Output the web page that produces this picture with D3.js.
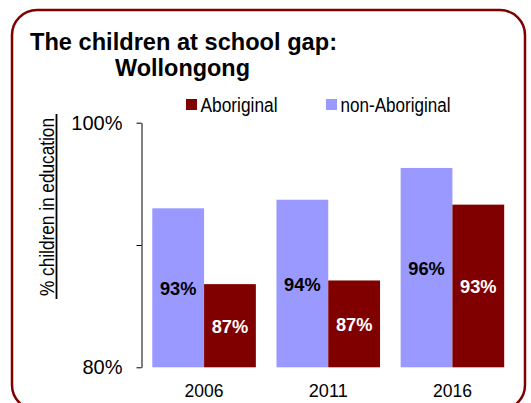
<!DOCTYPE html>
<html>
<head>
<meta charset="utf-8">
<script src="https://cdn.jsdelivr.net/npm/d3@7"></script>
<style>
  html, body { margin: 0; padding: 0; background: #fff; }
  svg text { font-family: "Liberation Sans", Arial, Helvetica, sans-serif; }
</style>
</head>
<body>
<svg id="chart" width="531" height="403"></svg>
<script>
// Census years and share of children in education (%)
const years = ["2006", "2011", "2016"];
const seriesNames = ["non-Aboriginal", "Aboriginal"];
const nonAboriginal = [93.0, 93.7, 96.3];
const aboriginal = [86.8, 87.1, 93.3];
const yTicks = [80, 90, 100];
const yTickLabels = ["80%", "", "100%"];
const legendOrder = ["Aboriginal", "non-Aboriginal"];

const colors = { "non-Aboriginal": "#9999ff", "Aboriginal": "#800000" };
const labelColors = { "non-Aboriginal": "#000", "Aboriginal": "#fff" };

const rows = years.map((yr, i) => ({
  year: yr,
  values: [
    { key: "non-Aboriginal", value: nonAboriginal[i] },
    { key: "Aboriginal", value: aboriginal[i] }
  ]
}));

const svg = d3.select("#chart");

// Rounded frame around the chart
svg.append("rect")
  .attr("x", 12).attr("y", 10)
  .attr("width", 513).attr("height", 400)
  .attr("rx", 25).attr("ry", 25)
  .attr("fill", "none")
  .attr("stroke", "#800000")
  .attr("stroke-width", 2.5);

// Title
const title = svg.append("g").attr("font-weight", "bold").attr("fill", "#000");
title.append("text").attr("x", 30).attr("y", 50)
  .attr("font-size", 24).attr("textLength", 307).attr("lengthAdjust", "spacingAndGlyphs")
  .text("The children at school gap:");
title.append("text").attr("x", 115).attr("y", 75.5)
  .attr("font-size", 24).attr("textLength", 135).attr("lengthAdjust", "spacingAndGlyphs")
  .text("Wollongong");

// Scales
const x0 = d3.scaleBand()
  .domain(years)
  .range([141.5, 515])
  .paddingInner(0.166)
  .paddingOuter(0.087);

const x1 = d3.scaleBand()
  .domain(seriesNames)
  .range([0, x0.bandwidth()]);

const y = d3.scaleLinear()
  .domain([80, 100])
  .range([367.3, 122.7]);

// Bars
const groups = svg.append("g").selectAll("g")
  .data(rows)
  .join("g")
  .attr("transform", d => `translate(${x0(d.year)},0)`);

groups.selectAll("rect")
  .data(d => d.values)
  .join("rect")
  .attr("x", d => x1(d.key))
  .attr("y", d => y(d.value))
  .attr("width", x1.bandwidth())
  .attr("height", d => y(80) - y(d.value))
  .attr("fill", d => colors[d.key]);

// Value labels in the middle of each bar
const fmt = v => d3.format(".0f")(v) + "%";
groups.selectAll("text.val")
  .data(d => d.values)
  .join("text")
  .attr("class", "val")
  .attr("x", d => x1(d.key) + x1.bandwidth() / 2)
  .attr("y", d => (y(d.value) + y(80)) / 2 + 7)
  .attr("text-anchor", "middle")
  .attr("font-size", 19)
  .attr("textLength", 36.5)
  .attr("lengthAdjust", "spacingAndGlyphs")
  .attr("font-weight", "bold")
  .attr("fill", d => labelColors[d.key])
  .text(d => fmt(d.value));

// Y axis
const yAxis = d3.axisLeft(y)
  .tickValues(yTicks)
  .tickFormat((d, i) => yTickLabels[i])
  .tickSize(5)
  .tickSizeOuter(0)
  .tickPadding(14);

const yG = svg.append("g")
  .attr("transform", "translate(141.5,0)")
  .call(yAxis);
yG.selectAll("path, line").attr("stroke", "#000").attr("stroke-width", 1);
yG.selectAll("text")
  .attr("font-size", 20)
  .attr("fill", "#000")
  .attr("font-family", "'Liberation Sans', Arial, sans-serif");

// Year labels
svg.append("g").selectAll("text")
  .data(years)
  .join("text")
  .attr("x", d => x0(d) + x0.bandwidth() / 2)
  .attr("y", 396.5)
  .attr("text-anchor", "middle")
  .attr("font-size", 18.5)
  .attr("textLength", 39)
  .attr("lengthAdjust", "spacingAndGlyphs")
  .attr("fill", "#000")
  .text(d => d);

// Y axis title, underlined
const yTitle = svg.append("g").attr("transform", "translate(54,296) rotate(-90)");
yTitle.append("text")
  .attr("x", 0).attr("y", 0)
  .attr("font-size", 20.5)
  .attr("textLength", 178)
  .attr("lengthAdjust", "spacingAndGlyphs")
  .attr("fill", "#000")
  .text("% children in education");
yTitle.append("line")
  .attr("x1", -3).attr("x2", 182)
  .attr("y1", 2.5).attr("y2", 2.5)
  .attr("stroke", "#000")
  .attr("stroke-width", 1.8);

// Legend
const legendX = { "Aboriginal": 186, "non-Aboriginal": 326 };
const legend = svg.append("g").selectAll("g")
  .data(legendOrder)
  .join("g")
  .attr("transform", d => `translate(${legendX[d]},0)`);
legend.append("rect")
  .attr("x", 0).attr("y", 99)
  .attr("width", 11).attr("height", 11)
  .attr("fill", d => colors[d]);
legend.append("text")
  .attr("x", 14.5).attr("y", 111.5)
  .attr("font-size", 19.5)
  .attr("textLength", d => d === "Aboriginal" ? 77 : 110)
  .attr("lengthAdjust", "spacingAndGlyphs")
  .attr("fill", "#000")
  .text(d => d);
</script>
</body>
</html>
